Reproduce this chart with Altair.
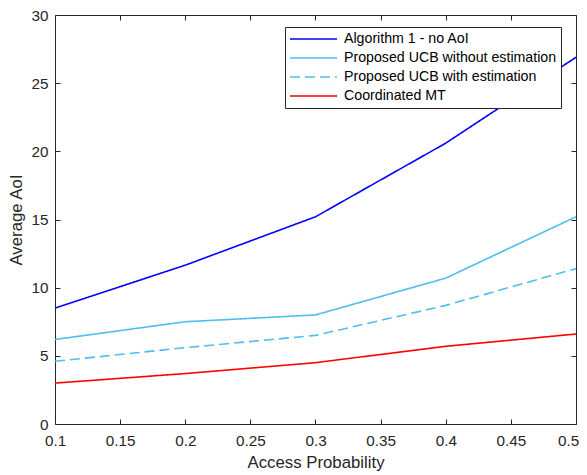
import altair as alt
import pandas as pd

x_vals = [0.1, 0.2, 0.3, 0.4, 0.5]
series_names = [
    "Algorithm 1 - no AoI",
    "Proposed UCB without estimation",
    "Proposed UCB with estimation",
    "Coordinated MT",
]
alg1 = [8.5, 11.65, 15.2, 20.6, 26.9]
ucb_no_est = [6.2, 7.5, 8.0, 10.7, 15.2]
ucb_est = [4.6, 5.6, 6.5, 8.7, 11.4]
coord_mt = [3.0, 3.7, 4.5, 5.7, 6.6]
x_ticks = [0.1, 0.15, 0.2, 0.25, 0.3, 0.35, 0.4, 0.45, 0.5]
y_ticks = [0, 5, 10, 15, 20, 25, 30]

colors = ["#0000FF", "#4DBEEE", "#4DBEEE", "#FF0000"]
dashes = [[1, 0], [1, 0], [10, 5], [1, 0]]

rows = []
for name, vals in zip(series_names, [alg1, ucb_no_est, ucb_est, coord_mt]):
    for xv, yv in zip(x_vals, vals):
        rows.append({"x": xv, "y": yv, "series": name})
df = pd.DataFrame(rows)

W, H = 521, 409
FONT = "Liberation Sans"
AX = "#262626"
TICK_FS = 15.3
TITLE_FS = 16.8
LEG_FS = 14.2

xscale = alt.Scale(domain=[0.1, 0.5], nice=False)
yscale = alt.Scale(domain=[0, 30], nice=False)

lines = alt.Chart(df).mark_line(strokeWidth=1.6, clip=True).encode(
    x=alt.X("x:Q", scale=xscale, title="Access Probability",
            axis=alt.Axis(orient="bottom", values=x_ticks, format=".2~f", ticks=False,
                          domain=False, grid=False, labelPadding=9, titlePadding=6,
                          labelFlush=False,
                          labelOffset={"condition": {"test": "datum.value >= 0.5", "value": -8},
                                       "value": 0},
                          labelFontSize=TICK_FS, titleFontSize=TITLE_FS, labelColor=AX,
                          titleColor=AX, titleFontWeight="normal", labelFont=FONT,
                          titleFont=FONT)),
    y=alt.Y("y:Q", scale=yscale, title="Average AoI",
            axis=alt.Axis(orient="left", values=y_ticks, ticks=False, domain=False,
                          grid=False, labelPadding=7, titlePadding=5, labelFlush=False,
                          labelFontSize=TICK_FS, titleFontSize=TITLE_FS, labelColor=AX,
                          titleColor=AX, titleFontWeight="normal", labelFont=FONT,
                          titleFont=FONT)),
    color=alt.Color("series:N", scale=alt.Scale(domain=series_names, range=colors),
                    legend=alt.Legend(title=None, orient="none", legendX=230, legendY=12,
                                      symbolType="stroke", symbolSize=2209,
                                      symbolStrokeWidth=1.6, labelFontSize=LEG_FS,
                                      labelFont=FONT, labelColor="black", labelLimit=400,
                                      strokeColor=AX, fillColor="white", padding=4,
                                      rowPadding=3, clipHeight=16, labelOffset=6,
                                      cornerRadius=0)),
    strokeDash=alt.StrokeDash("series:N", scale=alt.Scale(domain=series_names, range=dashes),
                              legend=alt.Legend(title=None, orient="none", legendX=230,
                                                legendY=12)),
)

tick_axis_common = dict(labels=False, domain=False, grid=False, ticks=True, tickSize=5,
                        tickColor=AX, title=None)

ticks_a = alt.Chart(df).mark_point(opacity=0).encode(
    x=alt.X("x:Q", scale=xscale,
            axis=alt.Axis(orient="top", offset=-H, values=x_ticks, **tick_axis_common)),
    y=alt.Y("y:Q", scale=yscale,
            axis=alt.Axis(orient="right", offset=-W, values=y_ticks, **tick_axis_common)),
)
ticks_b = alt.Chart(df).mark_point(opacity=0).encode(
    x=alt.X("x:Q", scale=xscale,
            axis=alt.Axis(orient="bottom", offset=-H, values=x_ticks, **tick_axis_common)),
    y=alt.Y("y:Q", scale=yscale,
            axis=alt.Axis(orient="left", offset=-W, values=y_ticks, **tick_axis_common)),
)

chart = alt.layer(lines, ticks_a, ticks_b).resolve_axis(x="independent", y="independent").properties(
    width=W, height=H,
    autosize=alt.AutoSizeParams(type="none"),
    padding={"left": 47, "top": 7, "right": 3, "bottom": 51},
).configure_view(stroke=AX, strokeWidth=1)

chart.save("out.html", embed_options={"renderer": "svg", "actions": False})
